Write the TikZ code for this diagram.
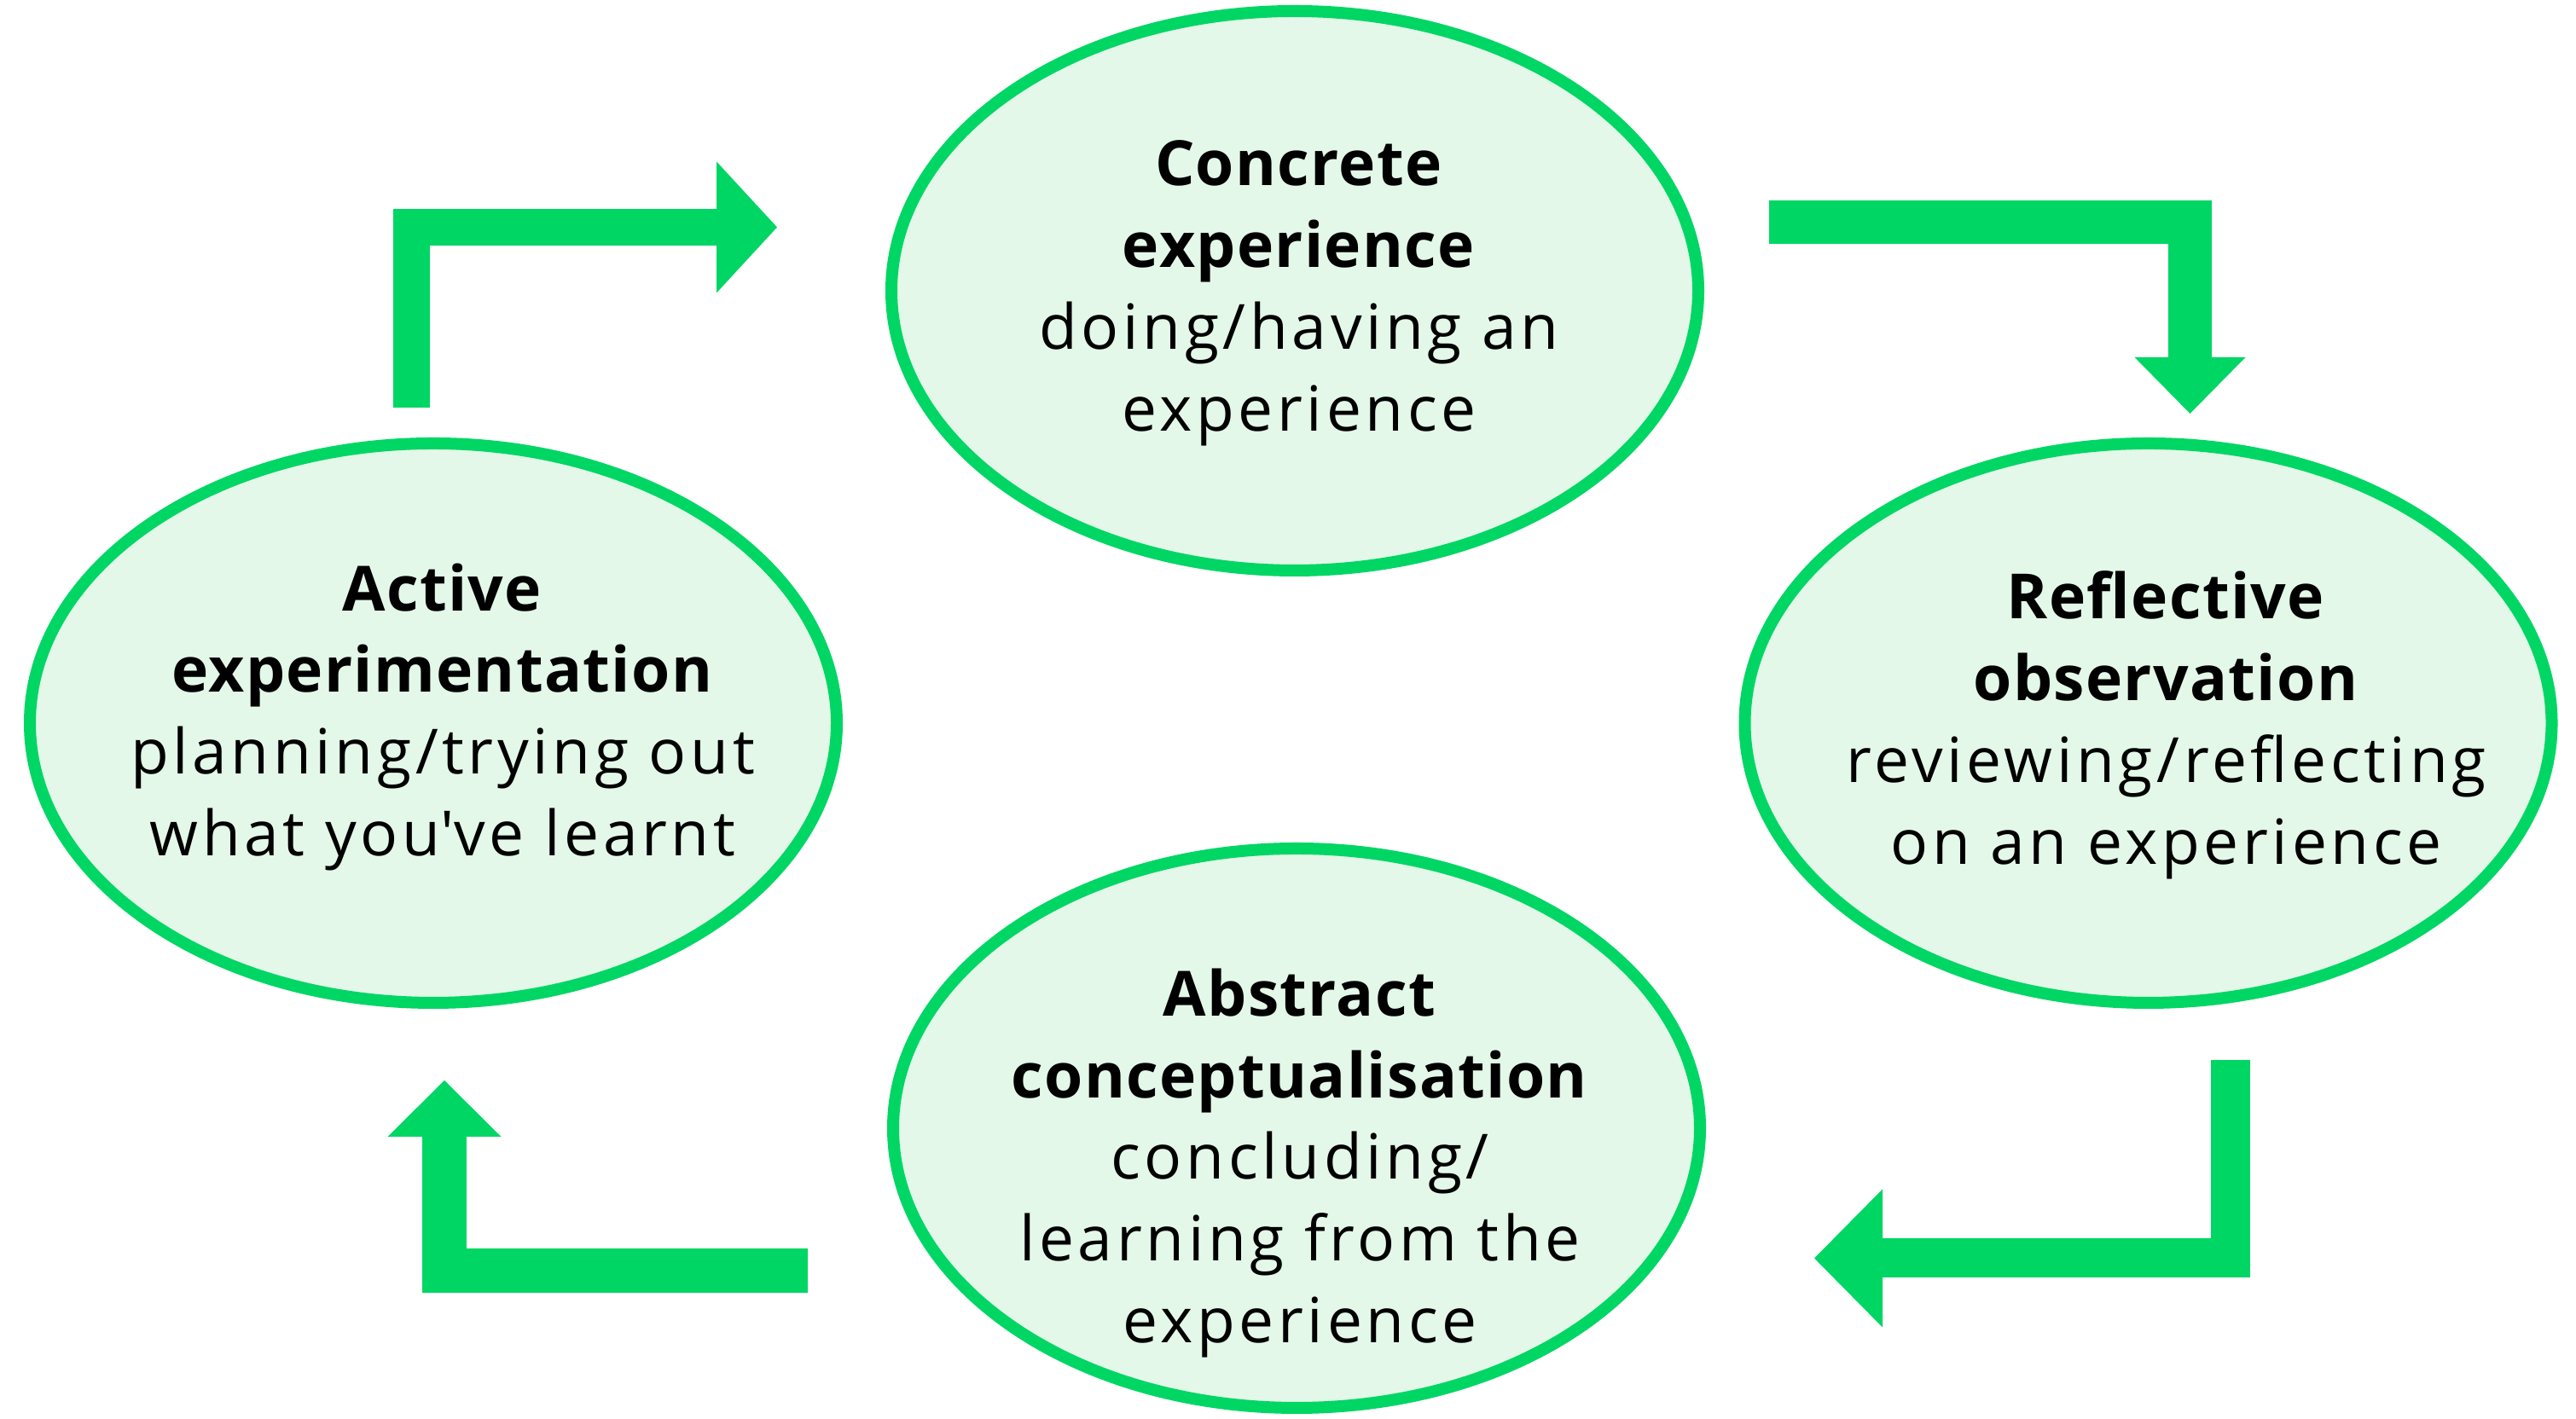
\documentclass[tikz,border=0pt]{standalone}
\usepackage{fontspec}
\setmainfont{Open Sans}[LetterSpace=6.3, BoldFeatures={LetterSpace=1.8}]
\usetikzlibrary{shapes.geometric,arrows.meta,positioning}
\definecolor{kolbgreen}{RGB}{0,214,100}
\definecolor{kolbfill}{RGB}{227,248,233}

\tikzset{
  stage/.style={ellipse, draw=kolbgreen, fill=kolbfill, line width=0.14cm, minimum width=9.46cm, minimum height=6.56cm, inner sep=0pt},
  stagetext/.style={align=center, inner sep=0pt, font=\fontsize{20.8}{27.3}\selectfont},
  flow/.style={draw=kolbgreen, line width=#1, line join=miter}
}

\begin{document}
\begin{tikzpicture}
    \useasboundingbox (0,0) rectangle (30.2,16.64);

    % Stages of the cycle
    \node[stage] (CE) at (15.18,13.23) {};
    \node[stage] (RO) at (25.185,8.16) {};
    \node[stage] (AC) at (15.20,3.41) {};
    \node[stage] (AE) at (5.08,8.16) {};

    % Stage texts
    \node[stagetext] (CE-t) at ([xshift=0.05cm, yshift=-0.03cm]CE.center) {\textbf{Concrete}\\ \textbf{experience}\\ doing/having an\\ experience};
    \node[stagetext] (RO-t) at ([xshift=0.21cm, yshift=-0.02cm]RO.center) {\textbf{Reflective}\\ \textbf{observation}\\ reviewing/reflecting\\ on an experience};
    \node[stagetext] (AC-t) at ([xshift=0.04cm, yshift=-0.41cm]AC.center) {\textbf{Abstract}\\ \textbf{conceptualisation}\\ concluding/\\ learning from the\\ experience};
    \node[stagetext] (AE-t) at ([xshift=0.11cm, yshift=0.07cm]AE.center) {\textbf{Active}\\ \textbf{experimentation}\\ planning/trying out\\ what you\textquotesingle ve learnt};

    % Arrow ends
    \coordinate (AE-out) at (4.825,11.86);
    \coordinate (CE-in) at (9.11,13.975);
    \coordinate (CE-out) at (20.74,14.035);
    \coordinate (RO-in) at (25.675,11.79);
    \coordinate (RO-out) at (26.15,4.21);
    \coordinate (AC-in) at (21.27,1.885);
    \coordinate (AC-out) at (9.47,1.735);
    \coordinate (AE-in) at (5.21,3.97);

    % Arrows
    \draw[flow=0.43cm, -{Triangle[width=1.54cm, length=0.71cm, line width=0pt]}] (AE-out) |- (CE-in);
    \draw[flow=0.51cm, -{Triangle[width=1.30cm, length=0.66cm, line width=0pt]}] (CE-out) -| (RO-in);
    \draw[flow=0.46cm, -{Triangle[width=1.62cm, length=0.80cm, line width=0pt]}] (RO-out) |- (AC-in);
    \draw[flow=0.52cm, -{Triangle[width=1.33cm, length=0.66cm, line width=0pt]}] (AC-out) -| (AE-in);
\end{tikzpicture}
\end{document}
